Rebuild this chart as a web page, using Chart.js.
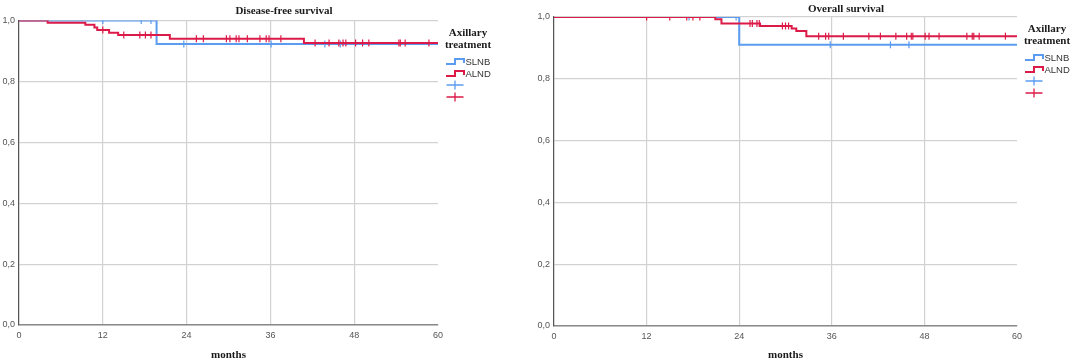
<!DOCTYPE html>
<html><head><meta charset="utf-8">
<script src="https://cdn.jsdelivr.net/npm/chart.js@4.4.1/dist/chart.umd.min.js"></script>
<style>
html,body{margin:0;padding:0;background:#fff;width:1080px;height:363px;overflow:hidden}
canvas{position:absolute;top:0}
#c1{left:0}
#c2{left:535px}
</style></head><body>
<canvas id="c1" width="535" height="363"></canvas>
<canvas id="c2" width="545" height="363"></canvas>
<script>
// ---- data ----
const xTickValues = [0, 12, 24, 36, 48, 60];
const yTickLabels = ['0,0', '0,2', '0,4', '0,6', '0,8', '1,0'];
const groups = ['SLNB', 'ALND'];
const legendTitle = ['Axillary', 'treatment'];
const xAxisTitle = 'months';

// Disease-free survival
const dfsSlnbTime = [0, 19.7, 60];
const dfsSlnbSurv = [1, 0.923, 0.923];
const dfsSlnbCensor = [12.0, 17.5, 18.9, 23.6, 36.1, 43.8, 46.0];
const dfsAlndTime = [0, 4.1, 9.5, 10.8, 11.2, 12.9, 14.2, 21.6, 40.8, 60];
const dfsAlndSurv = [1, 0.993, 0.986, 0.977, 0.969, 0.960, 0.952, 0.940, 0.926, 0.926];
const dfsAlndCensor = [12.0, 15.0, 17.3, 18.1, 18.9, 25.4, 26.4, 29.7, 30.2, 31.1, 31.5, 32.7, 34.5, 35.4, 35.8, 37.5,
  42.4, 44.4, 45.8, 46.4, 46.8, 48.2, 49.2, 50.1, 54.4, 54.6, 55.3, 58.7];

// Overall survival
const osSlnbTime = [0, 24.0, 60];
const osSlnbSurv = [1, 0.910, 0.910];
const osSlnbCensor = [17.5, 23.6, 35.8, 43.6, 46.0];
const osAlndTime = [0, 20.9, 21.7, 26.7, 30.8, 31.4, 32.7, 60];
const osAlndSurv = [1, 0.993, 0.979, 0.971, 0.963, 0.955, 0.938, 0.938];
const osAlndCensor = [12.0, 15.0, 17.2, 18.0, 18.9, 25.4, 25.7, 26.3, 26.6, 29.6, 30.0, 30.4, 34.3, 35.2, 35.6, 37.5,
  40.8, 42.3, 44.3, 45.7, 46.3, 46.5, 48.1, 48.6, 49.9, 53.5, 54.2, 54.4, 55.1, 58.5];

// ---- helpers ----
const BLUE = '#5b9cf0';
const RED = '#dc1a48';

function curve(times, surv) { return times.map((t, i) => ({x: t, y: surv[i]})); }
function survAt(times, surv, t) {
  let v = surv[0];
  for (let i = 0; i < times.length; i++) if (times[i] <= t) v = surv[i];
  return v;
}
function censorPts(ct, times, surv) { return ct.map(t => ({x: t, y: survAt(times, surv, t)})); }

const decor = {
  id: 'decor',
  afterDraw(chart, args, o) {
    const {ctx, chartArea: a} = chart;
    const L = Math.round(a.right), T = Math.round(a.top);
    ctx.save();
    ctx.fillStyle = '#1a1a1a';
    ctx.textAlign = 'center';
    ctx.textBaseline = 'middle';
    ctx.font = 'bold 11px "Liberation Serif", "DejaVu Serif", serif';
    ctx.fillText(o.title, o.titleX, o.titleY);
    ctx.fillText(legendTitle[0], L + 30, T + 12);
    ctx.fillText(legendTitle[1], L + 30, T + 24);
    const cols = [BLUE, RED];
    const x0 = L + 8, x1 = L + 26;
    ctx.lineWidth = 2;
    for (let i = 0; i < 2; i++) {
      const y = T + 41 + i * 12;
      ctx.strokeStyle = cols[i];
      ctx.beginPath();
      ctx.moveTo(x0, y + 2); ctx.lineTo(x0 + 9, y + 2); ctx.lineTo(x0 + 9, y - 3);
      ctx.lineTo(x1, y - 3); ctx.lineTo(x1, y + 1);
      ctx.stroke();
      ctx.fillStyle = '#333';
      ctx.textAlign = 'left';
      ctx.font = '9.5px "Liberation Sans", Arial, sans-serif';
      ctx.fillText(groups[i], L + 27.5, y);
    }
    ctx.lineWidth = 1.3;
    for (let i = 0; i < 2; i++) {
      const y = T + 64 + i * 12, cx = (x0 + x1) / 2;
      ctx.strokeStyle = cols[i];
      ctx.beginPath();
      ctx.moveTo(cx - 8.5, y); ctx.lineTo(cx + 8.5, y);
      ctx.moveTo(cx, y - 4.5); ctx.lineTo(cx, y + 4.5);
      ctx.stroke();
    }
    ctx.restore();
  }
};

function makeChart(id, c) {
  return new Chart(document.getElementById(id), {
    type: 'line',
    data: {
      datasets: [
        {label: groups[1], data: curve(c.aT, c.aS), stepped: true, borderColor: RED, borderWidth: 2, pointRadius: 0, fill: false},
        {label: groups[1] + ' censored', type: 'scatter', data: censorPts(c.aC, c.aT, c.aS), pointStyle: 'line', rotation: 90,
          pointRadius: 3.5, borderColor: RED, backgroundColor: RED, pointBorderWidth: 1.2, showLine: false},
        {label: groups[0], data: curve(c.bT, c.bS), stepped: true, borderColor: BLUE, borderWidth: 2, pointRadius: 0, fill: false},
        {label: groups[0] + ' censored', type: 'scatter', data: censorPts(c.bC, c.bT, c.bS), pointStyle: 'line', rotation: 90,
          pointRadius: 3.5, borderColor: BLUE, backgroundColor: BLUE, pointBorderWidth: 1.2, showLine: false}
      ]
    },
    options: {
      responsive: false, animation: false, devicePixelRatio: 1,
      layout: {padding: {top: c.padTop, right: c.padRight, left: 0, bottom: 0}},
      plugins: {legend: {display: false}, tooltip: {enabled: false}, decor: {title: c.title, titleX: c.titleX, titleY: c.titleY}},
      scales: {
        x: {
          type: 'linear', min: 0, max: 60,
          afterBuildTicks: s => { s.ticks = xTickValues.map(v => ({value: v})); },
          afterFit: s => { s.height = c.xH; },
          ticks: {padding: 5, color: '#555', font: {family: '"Liberation Sans", Arial, sans-serif', size: 9}, maxRotation: 0,
            callback: v => String(v)},
          grid: {drawTicks: false, lineWidth: 1.2, color: ctx => (ctx.tick && (ctx.tick.value === 60)) ? 'rgba(0,0,0,0)' : '#d2d2d2'},
          border: {color: '#8a8a8a', width: 1.5},
          title: {display: true, text: xAxisTitle, color: '#1a1a1a', padding: {top: 0, bottom: 1},
            font: {family: '"Liberation Serif", "DejaVu Serif", serif', size: 11, weight: 'bold'}}
        },
        y: {
          min: 0, max: 1,
          ticks: {stepSize: 0.2, padding: 4, color: '#555', font: {family: '"Liberation Sans", Arial, sans-serif', size: 9},
            callback: (v, i) => yTickLabels[i]},
          afterFit: s => { s.width = 19; },
          grid: {drawTicks: false, lineWidth: 1.2, color: '#d2d2d2'},
          border: {color: '#555', width: 1.2}
        }
      }
    },
    plugins: [decor]
  });
}

makeChart('c1', {title: 'Disease-free survival', titleX: 284, titleY: 11, padTop: 20.5, padRight: 97, xH: 38,
  aT: dfsAlndTime, aS: dfsAlndSurv, aC: dfsAlndCensor, bT: dfsSlnbTime, bS: dfsSlnbSurv, bC: dfsSlnbCensor});
makeChart('c2', {title: 'Overall survival', titleX: 311, titleY: 9, padTop: 17, padRight: 63, xH: 37,
  aT: osAlndTime, aS: osAlndSurv, aC: osAlndCensor, bT: osSlnbTime, bS: osSlnbSurv, bC: osSlnbCensor});
</script>
</body></html>
